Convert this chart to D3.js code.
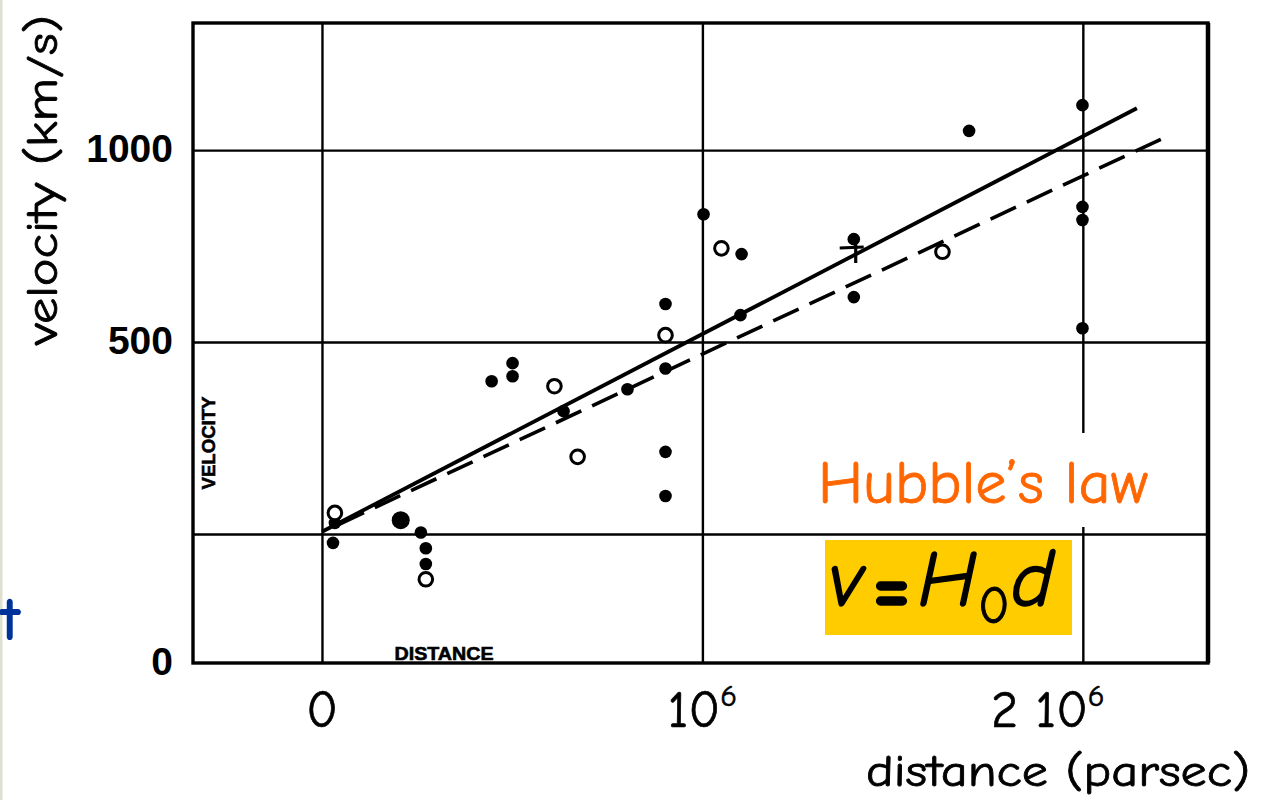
<!DOCTYPE html>
<html>
<head>
<meta charset="utf-8">
<script src="https://cdn.jsdelivr.net/npm/d3@7"></script>
<style>
  html, body { margin: 0; padding: 0; background: #fff; }
  svg { display: block; }
</style>
</head>
<body>
<svg id="chart" width="1270" height="800"></svg>
<script>
// Velocity–distance relation of extra-galactic nebulae (Hubble, 1929)

// axis ticks and their labels
const distanceTicks = [0, 1e6, 2e6];
const distanceTickLabels = ["0", "10^6", "2 10^6"];
const velocityGrid = [0, 500, 1000];
const velocityTickLabels = ["0", "500", "1000"];

// individual nebulae, solid dots: [distance (pc), velocity (km/s)]
const nebulaeFilled = [
  [34000, 29], [29000, -23], [260000, 4], [273000, -37], [273000, -78],
  [446000, 398], [501000, 445], [501000, 411], [635000, 320], [803000, 377],
  [903000, 431], [903000, 599], [903000, 214], [903000, 99],
  [1003000, 833], [1103000, 729], [1100000, 570],
  [1398000, 768], [1398000, 617], [1701000, 1050],
  [1999000, 1117], [1999000, 852], [1999000, 818], [1999000, 536]
];
// two nebulae at the same place, printed as one heavier dot
const nebulaePair = [[207000, 36]];
// nebulae grouped together, open circles
const nebulaeOpen = [
  [34000, 55], [273000, -118], [611000, 385], [672000, 201],
  [903000, 518], [1050000, 744], [1631000, 735]
];
// mean of the nebulae whose distances could not be estimated individually
const meanCross = [[1403000, 745]];

// fitted relations: solid for individual nebulae, dashed for groups
const fitSolid = [[0, 6], [2142000, 1109]];
const fitDashed = [[21000, 14], [2205000, 1028]];

const svg = d3.select("#chart");
const comic = "'Comic Sans MS', 'Comic Neue', Lato, sans-serif";

const plot = { left: 193, right: 1208, top: 23, bottom: 663 };
const x = d3.scaleLinear().domain([-339000, 2329000]).range([plot.left, plot.right]);
const y = d3.scaleLinear().domain([-336, 1331]).range([plot.bottom, plot.top]);

// thin strip along the left edge of the slide
svg.append("rect").attr("x", 0).attr("y", 0).attr("width", 2.5).attr("height", 800)
  .attr("fill", "#dedfcf");

// grid
const gx = svg.append("g").attr("transform", `translate(0,${plot.bottom})`)
  .call(d3.axisBottom(x).tickValues(distanceTicks).tickFormat("")
    .tickSize(-(plot.bottom - plot.top)));
const gy = svg.append("g").attr("transform", `translate(${plot.left},0)`)
  .call(d3.axisLeft(y).tickValues(velocityGrid).tickFormat("")
    .tickSize(-(plot.right - plot.left)));
[gx, gy].forEach(g => {
  g.select(".domain").remove();
  g.selectAll(".tick line").attr("stroke", "#000").attr("stroke-width", 2.4);
});

// frame
svg.append("rect")
  .attr("x", plot.left).attr("y", plot.top)
  .attr("width", plot.right - plot.left).attr("height", plot.bottom - plot.top)
  .attr("fill", "none").attr("stroke", "#000").attr("stroke-width", 3.4);
svg.append("line")
  .attr("x1", plot.right).attr("x2", plot.right)
  .attr("y1", plot.top).attr("y2", plot.bottom)
  .attr("stroke", "#000").attr("stroke-width", 4.5);

// printed axis captions inside the frame
svg.append("text")
  .attr("transform", "translate(215,443) rotate(-90)")
  .attr("text-anchor", "middle")
  .attr("font-family", "'Liberation Sans', Arial, sans-serif")
  .attr("font-weight", "bold").attr("font-size", 18)
  .attr("stroke", "#000").attr("stroke-width", 0.6)
  .attr("textLength", 93).attr("lengthAdjust", "spacingAndGlyphs")
  .text("VELOCITY");
svg.append("text")
  .attr("x", 444).attr("y", 660)
  .attr("text-anchor", "middle")
  .attr("font-family", "'Liberation Sans', Arial, sans-serif")
  .attr("font-weight", "bold").attr("font-size", 18)
  .attr("stroke", "#000").attr("stroke-width", 0.6)
  .attr("textLength", 99).attr("lengthAdjust", "spacingAndGlyphs")
  .text("DISTANCE");

// white panel behind the caption
svg.append("rect").attr("x", 806).attr("y", 433).attr("width", 360).attr("height", 94)
  .attr("fill", "#fff");

// fitted lines (the dashed one is stroked from its upper end so it ends on a dash)
const line = d3.line().x(d => x(d[0])).y(d => y(d[1]));
svg.append("path").datum(fitSolid).attr("d", line)
  .attr("fill", "none").attr("stroke", "#000").attr("stroke-width", 3.8);
svg.append("path").datum(fitDashed.slice().reverse()).attr("d", line)
  .attr("fill", "none").attr("stroke", "#000").attr("stroke-width", 3.6)
  .attr("stroke-dasharray", "28 12");

// nebulae
svg.append("g").selectAll("circle").data(nebulaeFilled).join("circle")
  .attr("cx", d => x(d[0])).attr("cy", d => y(d[1])).attr("r", 6.3)
  .attr("fill", "#000");
svg.append("g").selectAll("circle").data(nebulaePair).join("circle")
  .attr("cx", d => x(d[0])).attr("cy", d => y(d[1])).attr("r", 9)
  .attr("fill", "#000");
svg.append("g").selectAll("circle").data(nebulaeOpen).join("circle")
  .attr("cx", d => x(d[0])).attr("cy", d => y(d[1])).attr("r", 6.8)
  .attr("fill", "#fff").attr("stroke", "#000").attr("stroke-width", 3);
const cross = svg.append("g").selectAll("g").data(meanCross).join("g")
  .attr("transform", d => `translate(${x(d[0])},${y(d[1])})`);
cross.append("line").attr("x1", -16).attr("x2", 8).attr("y1", 0).attr("y2", -1)
  .attr("stroke", "#000").attr("stroke-width", 3.2);
cross.append("line").attr("x1", 0).attr("x2", 0).attr("y1", -14).attr("y2", 15)
  .attr("stroke", "#000").attr("stroke-width", 3.2);

// velocity tick labels
const yLab = svg.append("g").attr("transform", `translate(${plot.left},0)`)
  .call(d3.axisLeft(y).tickValues([y.domain()[0], 500, 1000])
    .tickFormat((d, i) => velocityTickLabels[i]).tickSize(0).tickPadding(20));
yLab.select(".domain").remove();
yLab.selectAll("text")
  .attr("font-family", "'Liberation Sans', Arial, sans-serif")
  .attr("font-weight", "bold").attr("font-size", 39).attr("fill", "#000")
  .attr("dy", "0.3em");

// distance tick labels, "^" marks a superscript
const xLab = svg.append("g").selectAll("text").data(distanceTicks).join("text")
  .attr("x", (d, i) => x(d) + (i === 2 ? -35 : 0))
  .attr("y", 727)
  .attr("text-anchor", "middle")
  .attr("font-family", comic).attr("font-size", 52).attr("fill", "#000")
  .attr("stroke", "#000").attr("stroke-width", 0.7);
xLab.each(function(d, i) {
  const parts = distanceTickLabels[i].split("^");
  const t = d3.select(this);
  t.append("tspan").text(parts[0]);
  if (parts[1]) {
    t.append("tspan").attr("font-size", 31).attr("dy", -21).text(parts[1]);
  }
});

// axis titles
svg.append("text")
  .attr("transform", "translate(57,180) rotate(-90)")
  .attr("text-anchor", "middle")
  .attr("font-family", comic).attr("font-size", 45).attr("fill", "#000")
  .attr("stroke", "#000").attr("stroke-width", 0.8)
  .attr("textLength", 330).attr("lengthAdjust", "spacingAndGlyphs")
  .text("velocity (km/s)");
svg.append("text")
  .attr("x", 1058).attr("y", 786)
  .attr("text-anchor", "middle")
  .attr("font-family", comic).attr("font-size", 45).attr("fill", "#000")
  .attr("stroke", "#000").attr("stroke-width", 0.8)
  .attr("textLength", 384).attr("lengthAdjust", "spacingAndGlyphs")
  .text("distance (parsec)");

// law caption
svg.append("text")
  .attr("x", 983).attr("y", 503)
  .attr("text-anchor", "middle")
  .attr("font-family", comic).attr("font-size", 60).attr("fill", "#ff6600")
  .attr("stroke", "#ff6600").attr("stroke-width", 0.8)
  .attr("textLength", 330).attr("lengthAdjust", "spacingAndGlyphs")
  .text("Hubble\u2019s law");

svg.append("rect").attr("x", 825).attr("y", 540).attr("width", 247).attr("height", 95)
  .attr("fill", "#ffcc00");
const eq = svg.append("text").attr("y", 606)
  .attr("font-family", comic).attr("fill", "#000")
  .attr("stroke", "#000").attr("stroke-width", 1.4);
eq.append("tspan").attr("x", 829).attr("font-size", 80).attr("font-style", "italic").text("v");
eq.append("tspan").attr("x", 872).attr("y", 614).attr("font-size", 84).attr("font-weight", "bold").text("=");
eq.append("tspan").attr("x", 918).attr("y", 606).attr("font-size", 80).attr("font-style", "italic").text("H");
eq.append("tspan").attr("x", 978).attr("y", 623).attr("font-size", 52).attr("stroke-width", 0.9).text("0");
eq.append("tspan").attr("x", 1011).attr("y", 606).attr("font-size", 80).attr("font-style", "italic").text("d");

// letter at the slide's left edge
svg.append("text")
  .attr("x", 0).attr("y", 640)
  .attr("text-anchor", "start")
  .attr("font-family", comic).attr("font-size", 62).attr("font-weight", "bold")
  .attr("fill", "#003399")
  .text("t");
</script>
</body>
</html>
